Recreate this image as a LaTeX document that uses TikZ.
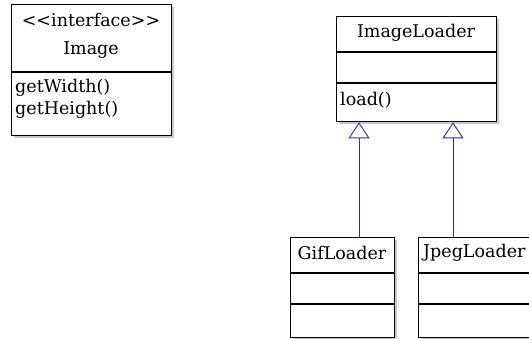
\documentclass[tikz,border=0pt]{standalone}
\usepackage{fontspec}
\setmainfont{DejaVu Serif}
\usetikzlibrary{arrows.meta,shadows}
\definecolor{umlblue}{RGB}{45,45,175}

\begin{document}
\begin{tikzpicture}[x=1pt,y=-1pt]
\tikzset{every node/.style={inner sep=0pt, font=\fontsize{17.5}{21}\selectfont}}
\tikzset{classbox/.style={draw=black, line width=1.3pt, fill=white, anchor=north west,
  drop shadow={shadow xshift=2.5pt, shadow yshift=-2.5pt, fill=black!30, opacity=0.7}}}
\tikzset{divider/.style={draw=black, line width=1.3pt}}
\tikzset{inherit/.style={draw=umlblue, line width=0.9pt, -{Triangle[open,width=21pt,length=16pt]}}}
\useasboundingbox (0,0) rectangle (529,339);
% interface Image
\node [classbox, minimum width=160pt, minimum height=131pt] (image) at (11,4) {};
\draw [divider] (image.west |- 0,72) -- (image.east |- 0,72);
\node (imagestereo) at (91,20) {<\kern0pt<interface>\kern0pt>};
\node (imagename) at (91,50) {Image};
\node [anchor=west] (getwidth) at (15,88) {getWidth()};
\node [anchor=west] (getheight) at (15,110) {getHeight()};
% ImageLoader
\node [classbox, minimum width=160pt, minimum height=105pt] (imgloader) at (336,16) {};
\draw [divider] (imgloader.west |- 0,52) -- (imgloader.east |- 0,52);
\draw [divider] (imgloader.west |- 0,83) -- (imgloader.east |- 0,83);
\node (imgloadername) at (416,33) {ImageLoader};
\node [anchor=west] (load) at (340,100) {load()};
% GifLoader
\node [classbox, minimum width=104pt, minimum height=100pt] (gifloader) at (290,237) {};
\draw [divider] (gifloader.west |- 0,273) -- (gifloader.east |- 0,273);
\draw [divider] (gifloader.west |- 0,304) -- (gifloader.east |- 0,304);
\node (gifname) at (342,253) {GifLoader};
% JpegLoader
\node [classbox, minimum width=112pt, minimum height=100pt] (jpegloader) at (418,237) {};
\draw [divider] (jpegloader.west |- 0,273) -- (jpegloader.east |- 0,273);
\draw [divider] (jpegloader.west |- 0,304) -- (jpegloader.east |- 0,304);
\node [anchor=west] (jpegname) at (423,253) {JpegLoader};
% generalisations
\draw [inherit] ([xshift=23pt]imgloader.south west |- gifloader.north) -- ([xshift=23pt]imgloader.south west);
\draw [inherit] ([xshift=117pt]imgloader.south west |- jpegloader.north) -- ([xshift=117pt]imgloader.south west);
\end{tikzpicture}
\end{document}
